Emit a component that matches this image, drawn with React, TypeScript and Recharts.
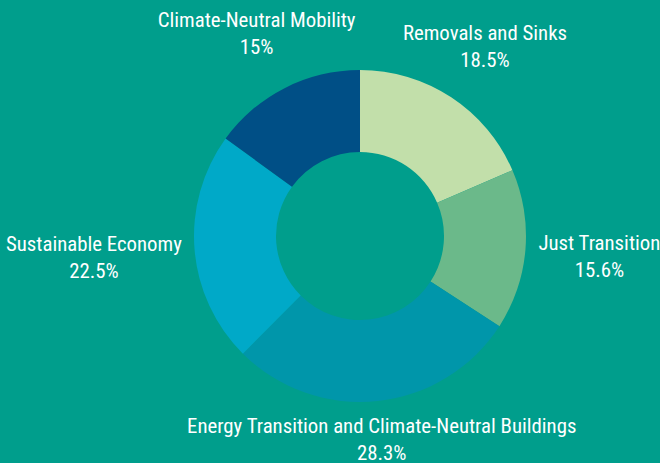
import { PieChart, Pie, Cell } from 'recharts'

const names = [
  'Removals and Sinks',
  'Just Transition',
  'Energy Transition and Climate-Neutral Buildings',
  'Sustainable Economy',
  'Climate-Neutral Mobility',
]
const shares = [18.5, 15.6, 28.3, 22.5, 15]
const colors = ['#c2dfaa', '#6bb98a', '#0096aa', '#00a9c8', '#004f86']

const data = names.map((name, i) => ({ name, value: shares[i] }))

const FONT = '"Roboto Condensed", Roboto, sans-serif'
const FONT_SIZE = 20.8
const RADIAN = Math.PI / 180

let ctx: CanvasRenderingContext2D | null = null
function textWidth(s: string): number {
  if (!ctx) ctx = document.createElement('canvas').getContext('2d')
  if (!ctx) return s.length * FONT_SIZE * 0.42
  ctx.font = `${FONT_SIZE}px ${FONT}`
  return ctx.measureText(s).width
}

function renderLabel(props: any) {
  const { cx, cy, midAngle, outerRadius, name, value } = props
  const cos = Math.cos(midAngle * RADIAN)
  const sin = Math.sin(midAngle * RADIAN)
  const w = Math.max(textWidth(name), textWidth(`${value}%`))
  // box centre sits on the mid-angle ray, pushed out by half its width
  const d = outerRadius + 13 + Math.abs(cos) * w / 2 + Math.abs(sin) * 4
  const x = cx + d * cos
  const y = cy - d * sin
  return (
    <g>
      <text x={x} y={y - 6} textAnchor="middle" fill="#ffffff" fontFamily={FONT} fontSize={FONT_SIZE}>
        {name}
      </text>
      <text x={x} y={y + 21} textAnchor="middle" fill="#ffffff" fontFamily={FONT} fontSize={FONT_SIZE}>
        {`${value}%`}
      </text>
    </g>
  )
}

export default function App() {
  return (
    <div style={{ position: 'absolute', left: 0, top: 0, width: 660, height: 463, background: '#009e8c', overflow: 'hidden' }}>
      <PieChart width={660} height={463} margin={{ top: 0, right: 0, bottom: 0, left: 0 }}>
        <Pie
          data={data}
          dataKey="value"
          nameKey="name"
          cx={360}
          cy={236}
          innerRadius={84}
          outerRadius={166}
          startAngle={90}
          endAngle={-270}
          stroke="none"
          label={renderLabel}
          labelLine={false}
          isAnimationActive={false}
        >
          {data.map((d, i) => (
            <Cell key={d.name} fill={colors[i]} />
          ))}
        </Pie>
      </PieChart>
    </div>
  )
}
